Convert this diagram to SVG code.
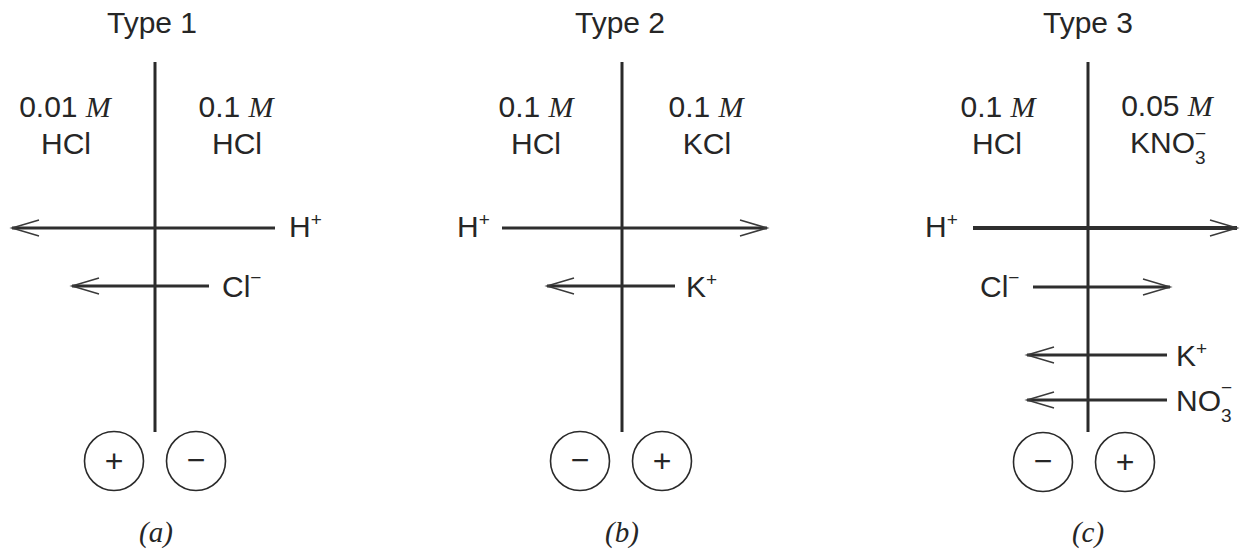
<svg xmlns="http://www.w3.org/2000/svg" width="1240" height="557" viewBox="0 0 1240 557">
<style>
.t{font-family:"Liberation Sans",Arial,sans-serif;font-size:30px;fill:#262626}
.m{font-family:"Liberation Serif","Times New Roman",serif;font-style:italic}
.sup{font-size:19px}
.cap{font-family:"Liberation Serif","Times New Roman",serif;font-style:italic;font-size:29px;fill:#262626}
.sg{font-family:"Liberation Sans",Arial,sans-serif;font-size:32px;fill:#262626;text-anchor:middle}
.mem{stroke:#2a2a2a;stroke-width:3;fill:none}
.ar{stroke:#2e2e2e;stroke-width:3.2;fill:none;marker-end:url(#ah)}
.arb{stroke:#2e2e2e;stroke-width:4;fill:none;marker-end:url(#ah)}
.el{stroke:#2a2a2a;stroke-width:1.6;fill:none}
</style>
<defs>
<marker id="ah" markerUnits="userSpaceOnUse" markerWidth="40" markerHeight="24" viewBox="-30 -12 34 24" refX="0" refY="0" orient="auto">
<path d="M-27,-8 L0,0 L-27,8" fill="none" stroke="#3a3a3a" stroke-width="1.5"/>
</marker>
</defs>
<rect width="1240" height="557" fill="#fff"/>

<g id="titles">
<text id="type1" class="t" x="152" y="33" text-anchor="middle">Type 1</text>
<text id="type2" class="t" x="620" y="33" text-anchor="middle">Type 2</text>
<text id="type3" class="t" x="1088" y="33" text-anchor="middle">Type 3</text>
</g>

<g id="membranes">
<line class="mem" x1="155" y1="62" x2="155" y2="432"/>
<line class="mem" x1="622" y1="62" x2="622" y2="432"/>
<line class="mem" x1="1088" y1="62" x2="1088" y2="432"/>
</g>

<g id="solutions">
<g id="a-left"><text class="t" x="65" y="117" text-anchor="middle">0.01 <tspan class="m">M</tspan></text><text class="t" x="66" y="154" text-anchor="middle">HCl</text></g>
<g id="a-right"><text class="t" x="236" y="117" text-anchor="middle">0.1 <tspan class="m">M</tspan></text><text class="t" x="237" y="154" text-anchor="middle">HCl</text></g>
<g id="b-left"><text class="t" x="536" y="117" text-anchor="middle">0.1 <tspan class="m">M</tspan></text><text class="t" x="536" y="154" text-anchor="middle">HCl</text></g>
<g id="b-right"><text class="t" x="706" y="117" text-anchor="middle">0.1 <tspan class="m">M</tspan></text><text class="t" x="707" y="154" text-anchor="middle">KCl</text></g>
<g id="c-left"><text class="t" x="998" y="117" text-anchor="middle">0.1 <tspan class="m">M</tspan></text><text class="t" x="997" y="154" text-anchor="middle">HCl</text></g>
<g id="c-right"><text class="t" x="1167" y="116" text-anchor="middle">0.05 <tspan class="m">M</tspan></text>
<text class="t" x="1130" y="153">KNO<tspan class="sup" dy="11">3</tspan><tspan class="sup" dx="-10.5" dy="-24">−</tspan></text></g>
</g>

<g id="connectors">
<line class="ar" x1="275" y1="228" x2="12" y2="228"/>
<line class="ar" x1="209" y1="286" x2="72" y2="286"/>
<line class="ar" x1="502" y1="228" x2="767" y2="228"/>
<line class="ar" x1="675" y1="286" x2="547" y2="286"/>
<line class="arb" x1="973" y1="228" x2="1237" y2="228"/>
<line class="ar" x1="1033" y1="287" x2="1170" y2="287"/>
<line class="ar" x1="1167" y1="355" x2="1027" y2="355"/>
<line class="ar" x1="1167" y1="400" x2="1027" y2="400"/>
</g>

<g id="ions">
<text id="a-h" class="t" x="289" y="237">H<tspan class="sup" dy="-11">+</tspan></text>
<text id="a-cl" class="t" x="222" y="297">Cl<tspan class="sup" dy="-13">−</tspan></text>
<text id="b-h" class="t" x="457" y="237">H<tspan class="sup" dy="-11">+</tspan></text>
<text id="b-k" class="t" x="686" y="297">K<tspan class="sup" dy="-11">+</tspan></text>
<text id="c-h" class="t" x="925" y="237">H<tspan class="sup" dy="-11">+</tspan></text>
<text id="c-cl" class="t" x="980" y="297">Cl<tspan class="sup" dy="-13">−</tspan></text>
<text id="c-k" class="t" x="1176" y="366">K<tspan class="sup" dy="-11">+</tspan></text>
<text id="c-no3" class="t" x="1176" y="411">NO<tspan class="sup" dy="11">3</tspan><tspan class="sup" dx="-10.5" dy="-28">−</tspan></text>
</g>

<g id="electrodes">
<g id="a-e1"><circle class="el" cx="114" cy="461" r="29.5"/><text class="sg" x="114" y="472">+</text></g>
<g id="a-e2"><circle class="el" cx="196" cy="461" r="29.5"/><text class="sg" x="196" y="471">−</text></g>
<g id="b-e1"><circle class="el" cx="580" cy="461" r="29.5"/><text class="sg" x="580" y="471">−</text></g>
<g id="b-e2"><circle class="el" cx="662" cy="461" r="29.5"/><text class="sg" x="662" y="472">+</text></g>
<g id="c-e1"><circle class="el" cx="1043" cy="462" r="29.5"/><text class="sg" x="1043" y="472">−</text></g>
<g id="c-e2"><circle class="el" cx="1125" cy="462" r="29.5"/><text class="sg" x="1125" y="473">+</text></g>
</g>

<g id="captions">
<text class="cap" x="156" y="542" text-anchor="middle">(a)</text>
<text class="cap" x="622" y="542" text-anchor="middle">(b)</text>
<text class="cap" x="1088" y="542" text-anchor="middle">(c)</text>
</g>
</svg>
